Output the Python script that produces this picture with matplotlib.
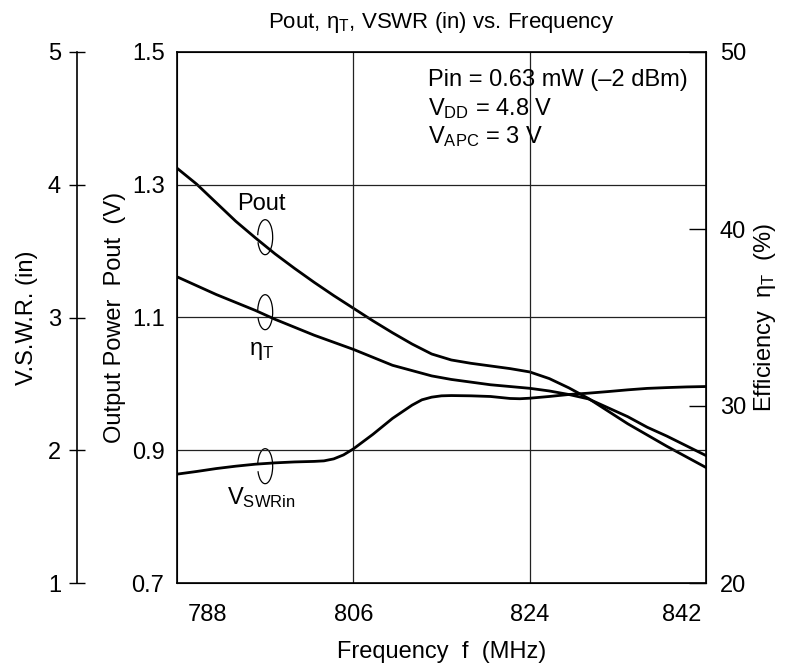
import matplotlib
matplotlib.use("Agg")
from matplotlib import pyplot as plt
from matplotlib.patches import Arc
from matplotlib.transforms import ScaledTranslation

plt.rcParams['font.family'] = ['Liberation Sans', 'DejaVu Sans']
plt.rcParams['mathtext.fontset'] = 'custom'
plt.rcParams['mathtext.rm'] = 'Liberation Sans'
plt.rcParams['mathtext.it'] = 'Liberation Sans:italic'
plt.rcParams['font.size'] = 17

# ---- dados ----
freq = [788, 790, 792, 794, 796, 798, 800, 802, 804, 806, 808, 810, 812, 814,
        816, 818, 820, 822, 824, 826, 828, 830, 832, 834, 836, 838, 840, 842]
pout = [1.325, 1.301, 1.273, 1.245, 1.220, 1.196, 1.174, 1.153, 1.133, 1.114,
        1.095, 1.077, 1.060, 1.045, 1.036, 1.031, 1.027, 1.023, 1.018, 1.008,
        0.994, 0.978, 0.959, 0.940, 0.923, 0.906, 0.890, 0.874]
eta = [37.3, 36.8, 36.3, 35.85, 35.4, 34.9, 34.45, 34.0, 33.6, 33.2, 32.75,
       32.3, 32.0, 31.7, 31.5, 31.35, 31.2, 31.1, 31.0, 30.85, 30.65, 30.4,
       29.9, 29.4, 28.8, 28.3, 27.75, 27.2]
freq_v = [788, 790, 792, 794, 796, 798, 800, 802, 803, 804, 805, 806, 807, 808,
          809, 810, 811, 812, 813, 814, 815, 816, 818, 820, 822, 823, 824, 826,
          828, 830, 832, 834, 836, 838, 840, 842]
vswr = [1.82, 1.84, 1.862, 1.88, 1.895, 1.905, 1.912, 1.916, 1.92, 1.935,
        1.965, 2.01, 2.065, 2.12, 2.18, 2.24, 2.29, 2.34, 2.38, 2.40, 2.41,
        2.412, 2.41, 2.405, 2.39, 2.388, 2.392, 2.405, 2.42, 2.43, 2.442,
        2.455, 2.466, 2.472, 2.477, 2.48]

xticks = [788, 806, 824, 842]
pticks = [0.7, 0.9, 1.1, 1.3, 1.5]
pticklabels = ["0.7", "0.9", "1.1", "1.3", "1.5"]
eticks = [20, 30, 40, 50]
vticks = [1, 2, 3, 4, 5]

W, H = 796, 668
fig = plt.figure(figsize=(W / 100, H / 100), dpi=100)
L, R, T, B = 177, 706, 52, 583
ax = fig.add_axes([L / W, 1 - B / H, (R - L) / W, (B - T) / H])

lw = 2.0
# Pout (eixo principal)
ax.plot(freq, pout, color="black", lw=lw)
ax.set_xlim(788, 842)
ax.set_ylim(0.7, 1.5)
ax.set_xticks(xticks)
ax.set_yticks(pticks)
ax.set_yticklabels(pticklabels)
ax.tick_params(axis="y", length=0, pad=9)
ax.tick_params(axis="x", length=0, pad=15)
for v in [806, 824]:
    ax.axvline(v, color="#222222", lw=0.9)
for v in [0.9, 1.1, 1.3]:
    ax.axhline(v, color="#222222", lw=0.9)
for s in ax.spines.values():
    s.set_linewidth(1.2)
ax.set_xlabel("Frequency  f  (MHz)", labelpad=11)
ax.set_ylabel("Output Power  Pout  (V)", labelpad=4)
ax.set_title(r"Pout, $\mathregular{\eta_T}$, VSWR (in) vs. Frequency",
             fontsize=16, pad=17)

# rotulos das pontas do eixo x ficam para dentro
xl = ax.get_xticklabels()
xl[0].set_ha("left")
xl[0].set_transform(xl[0].get_transform() + ScaledTranslation(11 / 100, 0, fig.dpi_scale_trans))
xl[-1].set_ha("right")
xl[-1].set_transform(xl[-1].get_transform() + ScaledTranslation(-5 / 100, 0, fig.dpi_scale_trans))

# Eficiencia (eixo direito)
ax2 = ax.twinx()
ax2.plot(freq, eta, color="black", lw=lw)
ax2.set_ylim(20, 50)
ax2.set_yticks(eticks)
ax2.tick_params(axis="y", direction="in", length=12, width=1.0, pad=10)
ax2.set_ylabel(r"Efficiency  $\mathregular{\eta_T}$  (%)", labelpad=4)

# VSWR (eixo externo esquerdo)
ax3 = ax.twinx()
ax3.plot(freq_v, vswr, color="black", lw=lw)
ax3.set_ylim(1, 5)
ax3.set_yticks(vticks)
ax3.spines["left"].set_position(("axes", -(L - 77) / (R - L)))
ax3.spines["left"].set_visible(True)
ax3.spines["left"].set_linewidth(1.2)
ax3.spines["right"].set_visible(False)
ax3.spines["top"].set_visible(False)
ax3.spines["bottom"].set_visible(False)
ax3.yaxis.set_ticks_position("left")
ax3.yaxis.set_label_position("left")
ax3.tick_params(axis="y", direction="inout", length=11, width=1.0, pad=6)
ax3.set_ylabel("V.S.W.R. (in)", labelpad=7)

# pequenos lacos que identificam as curvas (tamanho fixo em pixels)
for yc in [1.221, 1.108, 0.876]:
    tr = fig.dpi_scale_trans + ScaledTranslation(797.0, yc, ax.transData)
    ax.add_patch(Arc((0, 0), 0.15, 0.35, theta1=215, theta2=165,
                     color="black", lw=0.9, transform=tr, clip_on=False))

ax.text(796.6, 1.255, "Pout", ha="center", va="bottom")
ax.text(796.6, 1.066, r"$\mathregular{\eta_T}$", ha="center", va="top")
ax.text(796.6, 0.848, r"$\mathregular{V_{SWRin}}$", ha="center", va="top")

ax.text(813.6, 1.449, "Pin = 0.63 mW (\u20132 dBm)", ha="left", va="baseline")
ax.text(813.6, 1.405, r"$\mathregular{V_{DD}}$ = 4.8 V", ha="left", va="baseline")
ax.text(813.6, 1.362, r"$\mathregular{V_{APC}}$ = 3 V", ha="left", va="baseline")

fig.savefig("out.png", dpi=100)
